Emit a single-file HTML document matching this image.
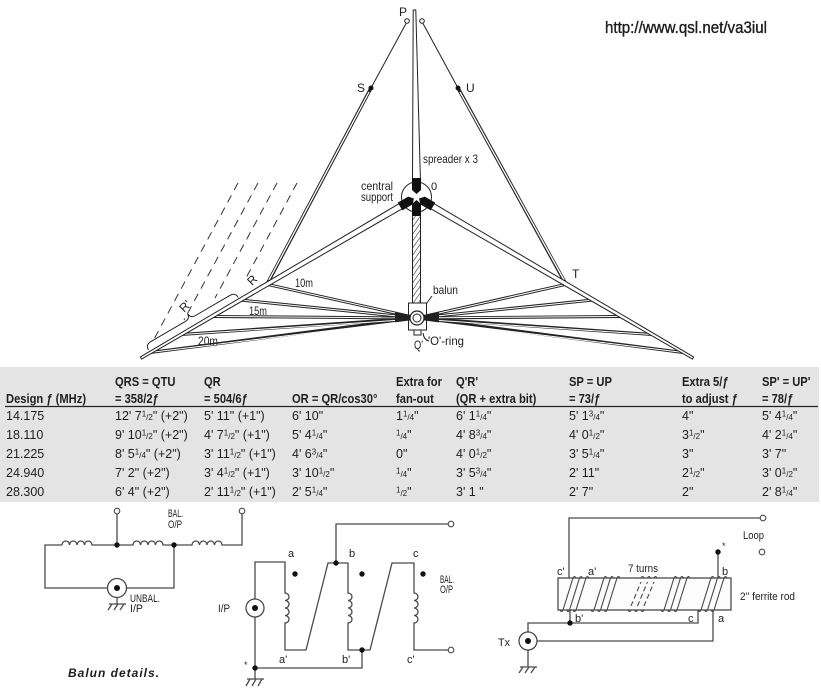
<!DOCTYPE html>
<html><head><meta charset="utf-8"><style>
html,body{margin:0;padding:0;background:#fff;}
svg{display:block;}
text{font-family:"Liberation Sans",sans-serif;fill:#1e1e1e;}
</style></head><body>
<svg width="821" height="690" viewBox="0 0 821 690" xmlns="http://www.w3.org/2000/svg">
<defs>
<pattern id="hatch" width="4" height="4" patternUnits="userSpaceOnUse" patternTransform="rotate(35)">
<line x1="0" y1="0" x2="0" y2="4" stroke="#222" stroke-width="1.1"/>
</pattern>
<polygon id="blk" points="0,-3 -4.5,-7 -4.5,-19 4.5,-19 4.5,-7" fill="#111"/>
</defs>
<rect width="821" height="690" fill="#fff"/>

<!-- URL -->
<text x="605" y="33" font-size="16.5" textLength="162" lengthAdjust="spacingAndGlyphs" fill="#111" stroke="#111" stroke-width="0.35">http://www.qsl.net/va3iul</text>

<!-- dashed lines -->
<g stroke="#333" stroke-width="1" stroke-dasharray="8 6" fill="none">
<line x1="238" y1="183" x2="152.5" y2="342"/>
<line x1="258" y1="183" x2="184" y2="320"/>
<line x1="277" y1="183" x2="215" y2="298"/>
<line x1="297" y1="183" x2="246" y2="278"/>
</g>

<!-- R' brace -->
<path d="M148.5,349.9 Q145.46,344.7 150.64,341.7 L185.18,321.56 Q190.36,318.53 187.34,313.35 Q190.36,318.53 195.54,315.5 L230.08,295.36 Q235.26,292.33 238.29,297.5" fill="none" stroke="#222" stroke-width="1"/>

<!-- top single lines -->
<g stroke="#222" stroke-width="1" fill="none">
<line x1="406" y1="23.5" x2="371" y2="88"/>
<line x1="423" y1="23.5" x2="458" y2="88"/>
</g>
<!-- S-R and U-T double lines -->
<g stroke="#222" stroke-width="3.4" fill="none">
<line x1="371" y1="88" x2="267" y2="284.3"/>
<line x1="458" y1="88" x2="566" y2="284.3"/>
</g>
<g stroke="#fff" stroke-width="1.3" fill="none">
<line x1="369" y1="92" x2="269" y2="280"/>
<line x1="460" y1="92" x2="564" y2="280"/>
</g>

<!-- fan wires dark -->
<g stroke="#222" stroke-width="3" fill="none">
<line x1="267" y1="284.3" x2="417" y2="318"/>
<line x1="240" y1="300" x2="417" y2="318"/>
<line x1="212" y1="316.5" x2="417" y2="318"/>
<line x1="181" y1="334.5" x2="417" y2="318"/>
<line x1="150" y1="352.5" x2="417" y2="318"/>
<line x1="566" y1="284.3" x2="417" y2="318"/>
<line x1="593" y1="300" x2="417" y2="318"/>
<line x1="621" y1="316.5" x2="417" y2="318"/>
<line x1="652" y1="334.5" x2="417" y2="318"/>
<line x1="683" y1="352.5" x2="417" y2="318"/>
</g>
<g stroke="#fff" stroke-width="1" fill="none">
<line x1="269" y1="284.8" x2="395" y2="313"/>
<line x1="242" y1="300.2" x2="395" y2="315.8"/>
<line x1="214" y1="316.5" x2="395" y2="317.8"/>
<line x1="183" y1="334.4" x2="395" y2="320.5"/>
<line x1="152" y1="352.2" x2="395" y2="322.5"/>
<line x1="564" y1="284.8" x2="439" y2="313"/>
<line x1="591" y1="300.2" x2="439" y2="315.8"/>
<line x1="619" y1="316.5" x2="439" y2="317.8"/>
<line x1="650" y1="334.4" x2="439" y2="320.5"/>
<line x1="681" y1="352.2" x2="439" y2="322.5"/>
</g>

<!-- spreader arms (tapered) -->
<g fill="#fff" stroke="#222" stroke-width="1">
<polygon points="401.9,201.97 404.9,207.15 141.6,359.04 140.4,356.96"/>
<polygon points="431.1,201.97 428.1,207.15 692.4,359.04 693.6,356.96"/>
<polygon points="413.2,10 415.8,10 420.5,183 412.5,183"/>
</g>

<!-- top circles -->
<g fill="#fff" stroke="#222" stroke-width="1">
<circle cx="407" cy="21" r="2.3"/>
<circle cx="422" cy="21" r="2.3"/>
</g>
<circle cx="371" cy="88" r="2.5" fill="#111"/>
<circle cx="458" cy="88" r="2.5" fill="#111"/>

<!-- coax hatched -->
<rect x="412.5" y="212" width="8" height="91" fill="url(#hatch)" stroke="#222" stroke-width="1"/>

<!-- hub -->
<circle cx="416.5" cy="197" r="15" fill="none" stroke="#222" stroke-width="1"/>
<use href="#blk" transform="translate(416.5 197)"/>
<use href="#blk" transform="translate(416.5 197) rotate(180)"/>
<use href="#blk" transform="translate(416.5 197) rotate(-120)"/>
<use href="#blk" transform="translate(416.5 197) rotate(120)"/>

<!-- balun box -->
<rect x="408.5" y="303" width="18" height="27" fill="none" stroke="#222" stroke-width="1"/>
<circle cx="417" cy="318" r="7" fill="#fff" stroke="#222" stroke-width="1.2"/>
<circle cx="417" cy="318" r="4" fill="#fff" stroke="#222" stroke-width="1"/>
<rect x="414" y="330" width="7" height="5" fill="#fff" stroke="#222" stroke-width="1"/>
<line x1="432" y1="296" x2="426.5" y2="303.5" stroke="#222" stroke-width="1"/>
<path d="M429,341 q-5,-1 -6,-8" fill="none" stroke="#222" stroke-width="1"/>

<!-- antenna labels -->
<g font-size="12">
<text x="399" y="16">P</text>
<text x="357" y="92">S</text>
<text x="466" y="92">U</text>
<text x="572" y="278">T</text>
<text x="431" y="190" font-size="11">0</text>
<text x="423" y="163" textLength="55" lengthAdjust="spacingAndGlyphs">spreader x 3</text>
<text x="361" y="190" textLength="32" lengthAdjust="spacingAndGlyphs">central</text>
<text x="361" y="201" textLength="32" lengthAdjust="spacingAndGlyphs">support</text>
<text x="433" y="294" textLength="25" lengthAdjust="spacingAndGlyphs">balun</text>
<text x="414" y="349" textLength="9" lengthAdjust="spacingAndGlyphs">Q'</text>
<text x="428" y="345" textLength="36" lengthAdjust="spacingAndGlyphs">'O'-ring</text>
<text x="295" y="287" textLength="18" lengthAdjust="spacingAndGlyphs">10m</text>
<text x="249" y="315" textLength="18" lengthAdjust="spacingAndGlyphs">15m</text>
<text x="198" y="345" textLength="20" lengthAdjust="spacingAndGlyphs">20m</text>
<text transform="translate(255 283) rotate(-45)" text-anchor="middle" font-size="12">R</text>
<text transform="translate(188 309) rotate(-45)" text-anchor="middle" font-size="12">R'</text>
</g>

<!-- table -->
<rect x="0" y="367" width="819" height="135" fill="#e4e4e4"/>
<line x1="5" y1="406.5" x2="818" y2="406.5" stroke="#222" stroke-width="1.2"/>
<g font-weight="bold" font-size="13" transform="scale(0.86 1)" style="white-space:pre">
<text x="133.7" y="386">QRS = QTU</text>
<text x="237.2" y="386">QR</text>
<text x="460.5" y="386">Extra for</text>
<text x="530.2" y="386">Q'R'</text>
<text x="661.6" y="386">SP = UP</text>
<text x="793" y="386">Extra 5/ƒ</text>
<text x="886" y="386">SP' = UP'</text>
<text x="7" y="403">Design ƒ (MHz)</text>
<text x="133.7" y="403">=  358/2ƒ</text>
<text x="237.2" y="403">= 504/6ƒ</text>
<text x="339.5" y="403">OR = QR/cos30°</text>
<text x="460.5" y="403">fan-out</text>
<text x="530.2" y="403">(QR + extra bit)</text>
<text x="661.6" y="403">= 73/ƒ</text>
<text x="793" y="403">to adjust ƒ</text>
<text x="886" y="403">= 78/ƒ</text>
</g>
<g font-size="12.5">
<!-- row 1 -->
<text x="6" y="420">14.175</text>
<text x="115" y="420">12' 7<tspan font-size="8" dy="-3.5">1</tspan><tspan font-size="8" dy="3.5">/2</tspan>" (+2")</text>
<text x="204" y="420">5' 11" (+1")</text>
<text x="292" y="420">6' 10"</text>
<text x="396" y="420">1<tspan font-size="8" dy="-3.5">1</tspan><tspan font-size="8" dy="3.5">/4</tspan>"</text>
<text x="456" y="420">6' 1<tspan font-size="8" dy="-3.5">1</tspan><tspan font-size="8" dy="3.5">/4</tspan>"</text>
<text x="569" y="420">5' 1<tspan font-size="8" dy="-3.5">3</tspan><tspan font-size="8" dy="3.5">/4</tspan>"</text>
<text x="682" y="420">4"</text>
<text x="762" y="420">5' 4<tspan font-size="8" dy="-3.5">1</tspan><tspan font-size="8" dy="3.5">/4</tspan>"</text>
<!-- row 2 -->
<text x="6" y="439">18.110</text>
<text x="115" y="439">9' 10<tspan font-size="8" dy="-3.5">1</tspan><tspan font-size="8" dy="3.5">/2</tspan>" (+2")</text>
<text x="204" y="439">4' 7<tspan font-size="8" dy="-3.5">1</tspan><tspan font-size="8" dy="3.5">/2</tspan>" (+1")</text>
<text x="292" y="439">5' 4<tspan font-size="8" dy="-3.5">1</tspan><tspan font-size="8" dy="3.5">/4</tspan>"</text>
<text x="396" y="439"><tspan font-size="8" dy="-3.5">1</tspan><tspan font-size="8" dy="3.5">/4</tspan>"</text>
<text x="456" y="439">4' 8<tspan font-size="8" dy="-3.5">3</tspan><tspan font-size="8" dy="3.5">/4</tspan>"</text>
<text x="569" y="439">4' 0<tspan font-size="8" dy="-3.5">1</tspan><tspan font-size="8" dy="3.5">/2</tspan>"</text>
<text x="682" y="439">3<tspan font-size="8" dy="-3.5">1</tspan><tspan font-size="8" dy="3.5">/2</tspan>"</text>
<text x="762" y="439">4' 2<tspan font-size="8" dy="-3.5">1</tspan><tspan font-size="8" dy="3.5">/4</tspan>"</text>
<!-- row 3 -->
<text x="6" y="458">21.225</text>
<text x="115" y="458">8' 5<tspan font-size="8" dy="-3.5">1</tspan><tspan font-size="8" dy="3.5">/4</tspan>" (+2")</text>
<text x="204" y="458">3' 11<tspan font-size="8" dy="-3.5">1</tspan><tspan font-size="8" dy="3.5">/2</tspan>" (+1")</text>
<text x="292" y="458">4' 6<tspan font-size="8" dy="-3.5">3</tspan><tspan font-size="8" dy="3.5">/4</tspan>"</text>
<text x="396" y="458">0"</text>
<text x="456" y="458">4' 0<tspan font-size="8" dy="-3.5">1</tspan><tspan font-size="8" dy="3.5">/2</tspan>"</text>
<text x="569" y="458">3' 5<tspan font-size="8" dy="-3.5">1</tspan><tspan font-size="8" dy="3.5">/4</tspan>"</text>
<text x="682" y="458">3"</text>
<text x="762" y="458">3' 7"</text>
<!-- row 4 -->
<text x="6" y="477">24.940</text>
<text x="115" y="477">7' 2" (+2")</text>
<text x="204" y="477">3' 4<tspan font-size="8" dy="-3.5">1</tspan><tspan font-size="8" dy="3.5">/2</tspan>" (+1")</text>
<text x="292" y="477">3' 10<tspan font-size="8" dy="-3.5">1</tspan><tspan font-size="8" dy="3.5">/2</tspan>"</text>
<text x="396" y="477"><tspan font-size="8" dy="-3.5">1</tspan><tspan font-size="8" dy="3.5">/4</tspan>"</text>
<text x="456" y="477">3' 5<tspan font-size="8" dy="-3.5">3</tspan><tspan font-size="8" dy="3.5">/4</tspan>"</text>
<text x="569" y="477">2' 11"</text>
<text x="682" y="477">2<tspan font-size="8" dy="-3.5">1</tspan><tspan font-size="8" dy="3.5">/2</tspan>"</text>
<text x="762" y="477">3' 0<tspan font-size="8" dy="-3.5">1</tspan><tspan font-size="8" dy="3.5">/2</tspan>"</text>
<!-- row 5 -->
<text x="6" y="496">28.300</text>
<text x="115" y="496">6' 4" (+2")</text>
<text x="204" y="496">2' 11<tspan font-size="8" dy="-3.5">1</tspan><tspan font-size="8" dy="3.5">/2</tspan>" (+1")</text>
<text x="292" y="496">2' 5<tspan font-size="8" dy="-3.5">1</tspan><tspan font-size="8" dy="3.5">/4</tspan>"</text>
<text x="396" y="496"><tspan font-size="8" dy="-3.5">1</tspan><tspan font-size="8" dy="3.5">/2</tspan>"</text>
<text x="456" y="496">3' 1 "</text>
<text x="569" y="496">2' 7"</text>
<text x="682" y="496">2"</text>
<text x="762" y="496">2' 8<tspan font-size="8" dy="-3.5">1</tspan><tspan font-size="8" dy="3.5">/4</tspan>"</text>
</g>

<!-- ===== Balun circuits ===== -->
<g stroke="#4a4a4a" stroke-width="1.3" fill="none">
<!-- left circuit -->
<path d="M62,545 H45 V588 H107.5"/>
<path d="M62,545 a3.75,4 0 0 1 7.5,0 a3.75,4 0 0 1 7.5,0 a3.75,4 0 0 1 7.5,0 a3.75,4 0 0 1 7.5,0 H133 a3.75,4 0 0 1 7.5,0 a3.75,4 0 0 1 7.5,0 a3.75,4 0 0 1 7.5,0 a3.75,4 0 0 1 7.5,0 H192 a3.75,4 0 0 1 7.5,0 a3.75,4 0 0 1 7.5,0 a3.75,4 0 0 1 7.5,0 a3.75,4 0 0 1 7.5,0 H242 V514"/>
<line x1="117" y1="545" x2="117" y2="514"/>
<path d="M126.5,588 H174 V545"/>
<path d="M117,597.5 V604 M109,604 H126 M112,604 L108,610 M118,604 L114,610 M124,604 L120,610"/>

<!-- middle circuit -->
<path d="M255,599 V562 H285 V593 a4,3.75 0 0 1 0,7.5 a4,3.75 0 0 1 0,7.5 a4,3.75 0 0 1 0,7.5 a4,3.75 0 0 1 0,7.5 V650 H306 L328,563 H348 V593 a4,3.75 0 0 1 0,7.5 a4,3.75 0 0 1 0,7.5 a4,3.75 0 0 1 0,7.5 a4,3.75 0 0 1 0,7.5 V650 H370 L392,563 H414 V593 a4,3.75 0 0 1 0,7.5 a4,3.75 0 0 1 0,7.5 a4,3.75 0 0 1 0,7.5 a4,3.75 0 0 1 0,7.5 V650 H448"/>
<path d="M336,563 V524 H448"/>
<path d="M255,617 V668 H362 V650"/>
<path d="M255,668 V679 M247,679 H264 M250,679 L246,686 M256,679 L252,686 M262,679 L258,686"/>

<!-- right circuit -->
<path d="M569,578 V518 H760"/>
<path d="M718,552 V578"/>
<rect x="558" y="578" width="173" height="32" fill="#fcfcfc"/>
<path d="M570,610 V623 M528,632 V623 H698 V610 M713,610 V641 H537"/>
<path d="M528,650 V667 M520,667 H537 M523,667 L519,673 M529,667 L525,673 M535,667 L531,673"/>
</g>
<!-- windings -->
<g stroke="#4a4a4a" stroke-width="1.1" fill="none">
<path d="M560,610 q1.5,3 3,0 L573,578 q1.5,-3 3,0 M566.5,610 q1.5,3 3,0 L579.5,578 q1.5,-3 3,0 M573,610 q1.5,3 3,0 L586,578 q1.5,-3 3,0"/>
<path d="M591,610 q1.5,3 3,0 L604,578 q1.5,-3 3,0 M597.5,610 q1.5,3 3,0 L610.5,578 q1.5,-3 3,0 M604,610 q1.5,3 3,0 L617,578 q1.5,-3 3,0"/>
<path d="M661,610 q1.5,3 3,0 L674,578 q1.5,-3 3,0 M667.5,610 q1.5,3 3,0 L680.5,578 q1.5,-3 3,0 M674,610 q1.5,3 3,0 L687,578 q1.5,-3 3,0"/>
<path d="M698,610 q1.5,3 3,0 L711,578 q1.5,-3 3,0 M704.5,610 q1.5,3 3,0 L717.5,578 q1.5,-3 3,0 M711,610 q1.5,3 3,0 L724,578 q1.5,-3 3,0"/>
<path d="M628,610 q1.5,3 3,0 M634.5,610 q1.5,3 3,0 M641,610 q1.5,3 3,0 M641,578 q1.5,-3 3,0 M647.5,578 q1.5,-3 3,0 M654,578 q1.5,-3 3,0"/>
<path d="M631,606 L641,582 M637.5,606 L647.5,582 M644,606 L654,582" stroke-dasharray="5 3"/>
</g>

<!-- terminals -->
<g fill="#fff" stroke="#4a4a4a" stroke-width="1.1">
<circle cx="117" cy="511" r="2.8"/>
<circle cx="242" cy="511" r="2.8"/>
<circle cx="451" cy="524" r="2.8"/>
<circle cx="451" cy="650" r="2.8"/>
<circle cx="763" cy="518" r="2.8"/>
<circle cx="762" cy="552" r="2.8"/>
<circle cx="117" cy="588" r="9.5" stroke-width="1.3"/>
<circle cx="255" cy="608" r="9" stroke-width="1.3"/>
<circle cx="528" cy="641" r="9" stroke-width="1.3"/>
</g>
<g fill="#111">
<circle cx="117" cy="588" r="3"/>
<circle cx="255" cy="608" r="3"/>
<circle cx="528" cy="641" r="3"/>
<circle cx="117" cy="545" r="2.7"/>
<circle cx="174" cy="545" r="2.7"/>
<circle cx="336" cy="563" r="2.7"/>
<circle cx="362" cy="650" r="2.7"/>
<circle cx="255" cy="668" r="2.7"/>
<circle cx="295" cy="574" r="2.7"/>
<circle cx="362" cy="574" r="2.7"/>
<circle cx="423" cy="574" r="2.7"/>
<circle cx="718" cy="552" r="2.7"/>
<circle cx="570" cy="623" r="2.7"/>
</g>

<!-- circuit labels -->
<g font-size="11">
<text x="168" y="517" textLength="15" lengthAdjust="spacingAndGlyphs">BAL.</text>
<text x="168" y="528" textLength="14" lengthAdjust="spacingAndGlyphs">O/P</text>
<text x="130" y="602" textLength="30" lengthAdjust="spacingAndGlyphs">UNBAL.</text>
<text x="130" y="612" textLength="13" lengthAdjust="spacingAndGlyphs">I/P</text>
<text x="218" y="612" textLength="12" lengthAdjust="spacingAndGlyphs">I/P</text>
<text x="288" y="557">a</text>
<text x="349" y="557">b</text>
<text x="413" y="557">c</text>
<text x="279" y="663">a'</text>
<text x="342" y="663">b'</text>
<text x="407" y="663">c'</text>
<text x="244" y="668" font-size="9">*</text>
<text x="440" y="583" textLength="14" lengthAdjust="spacingAndGlyphs">BAL.</text>
<text x="440" y="593" textLength="13" lengthAdjust="spacingAndGlyphs">O/P</text>
<text x="743" y="539" textLength="21" lengthAdjust="spacingAndGlyphs">Loop</text>
<text x="722" y="549" font-size="9">*</text>
<text x="557" y="575">c'</text>
<text x="588" y="575">a'</text>
<text x="628" y="572" textLength="30" lengthAdjust="spacingAndGlyphs">7 turns</text>
<text x="722" y="575">b</text>
<text x="740" y="600" textLength="55" lengthAdjust="spacingAndGlyphs">2'' ferrite rod</text>
<text x="575" y="622">b'</text>
<text x="688" y="622">c</text>
<text x="718" y="622">a</text>
<text x="498" y="646" textLength="12" lengthAdjust="spacingAndGlyphs">Tx</text>
</g>
<text x="68" y="677" font-family="Liberation Serif, serif" font-weight="bold" font-style="italic" font-size="12" textLength="91" lengthAdjust="spacing">Balun details.</text>
</svg>
</body></html>
